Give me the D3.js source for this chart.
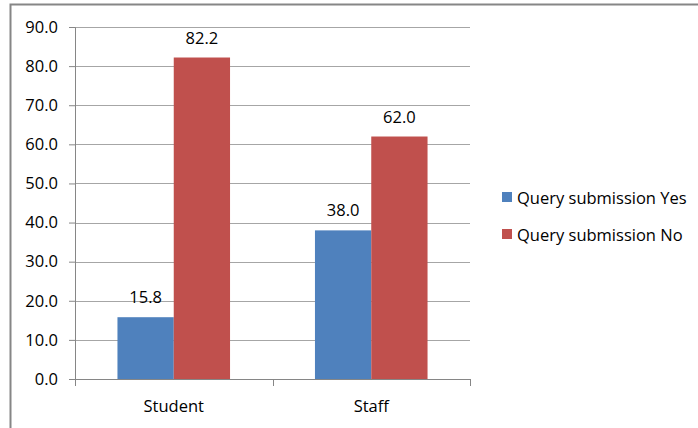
<!DOCTYPE html>
<html>
<head>
<meta charset="utf-8">
<script src="https://cdn.jsdelivr.net/npm/d3@7"></script>
<style>
  body { margin: 0; background: #fff; }
  svg { display: block; font-family: "Open Sans", sans-serif; }
</style>
</head>
<body>
<div id="chart"></div>
<script>
// data
const categories = ["Student", "Staff"];
const seriesNames = ["Query submission Yes", "Query submission No"];
const yesValues = [15.8, 38.0];
const noValues = [82.2, 62.0];
const yTicks = [0, 10, 20, 30, 40, 50, 60, 70, 80, 90];
const colors = ["#4F81BD", "#C0504D"];

const width = 698, height = 428;
const margin = { top: 27, right: 228, bottom: 49, left: 75 };
const fontSize = 16.5;

const svg = d3.select("#chart").append("svg")
  .attr("width", width)
  .attr("height", height);

// outer frame (runs off the right and bottom edges)
svg.append("rect")
  .attr("x", 10.5).attr("y", 4.5)
  .attr("width", width + 20).attr("height", height + 20)
  .attr("fill", "none")
  .attr("stroke", "#868686")
  .attr("stroke-width", 2);

const innerW = width - margin.left - margin.right;
const innerH = height - margin.top - margin.bottom;
const g = svg.append("g").attr("transform", `translate(${margin.left},${margin.top})`);

const x0 = d3.scaleBand().domain(categories).range([0, innerW]).paddingInner(0.43).paddingOuter(0.215);
const x1 = d3.scaleBand().domain(seriesNames).range([0, x0.bandwidth()]);
const y = d3.scaleLinear().domain([0, 90]).range([innerH, 0]);

// gridlines
g.append("g")
  .selectAll("line")
  .data(yTicks.filter(d => d > 0))
  .join("line")
  .attr("x1", 0).attr("x2", innerW)
  .attr("y1", d => Math.round(y(d)) + 0.5).attr("y2", d => Math.round(y(d)) + 0.5)
  .attr("stroke", "#a6a6a6");

// y axis
const yAxis = g.append("g")
  .call(d3.axisLeft(y).tickValues(yTicks).tickFormat(d3.format(".1f")).tickSize(6).tickPadding(11));
yAxis.select(".domain").attr("stroke", "#868686");
yAxis.selectAll(".tick line").attr("stroke", "#868686");
yAxis.selectAll("text").attr("font-size", fontSize).attr("fill", "#000").attr("font-family", "Open Sans, sans-serif");

// x axis
const xAxisG = g.append("g").attr("transform", `translate(0,${innerH})`);
xAxisG.append("line")
  .attr("x1", 0).attr("x2", innerW).attr("y1", 0.5).attr("y2", 0.5)
  .attr("stroke", "#868686");
const step = innerW / categories.length;
xAxisG.selectAll("line.sep")
  .data(d3.range(categories.length + 1))
  .join("line")
  .attr("class", "sep")
  .attr("x1", d => Math.round(d * step) + 0.5).attr("x2", d => Math.round(d * step) + 0.5)
  .attr("y1", 0).attr("y2", 7)
  .attr("stroke", "#868686");
xAxisG.selectAll("text")
  .data(categories)
  .join("text")
  .attr("x", d => x0(d) + x0.bandwidth() / 2)
  .attr("y", 33)
  .attr("text-anchor", "middle")
  .attr("font-size", fontSize)
  .text(d => d);

// bars
const rows = categories.map((c, i) => ({ cat: c, vals: [yesValues[i], noValues[i]] }));
const groups = g.selectAll("g.cat")
  .data(rows)
  .join("g")
  .attr("class", "cat")
  .attr("transform", d => `translate(${x0(d.cat)},0)`);

groups.selectAll("rect")
  .data(d => d.vals.map((v, j) => ({ name: seriesNames[j], v, j })))
  .join("rect")
  .attr("x", d => x1(d.name))
  .attr("y", d => y(d.v))
  .attr("width", x1.bandwidth())
  .attr("height", d => innerH - y(d.v))
  .attr("fill", d => colors[d.j]);

groups.selectAll("text")
  .data(d => d.vals.map((v, j) => ({ name: seriesNames[j], v, j })))
  .join("text")
  .attr("x", d => x1(d.name) + x1.bandwidth() / 2)
  .attr("y", d => y(d.v) - 14)
  .attr("text-anchor", "middle")
  .attr("font-size", fontSize)
  .text(d => d3.format(".1f")(d.v));

// legend
const legend = svg.append("g").attr("transform", "translate(502,199)");
legend.selectAll("g")
  .data(seriesNames)
  .join("g")
  .attr("transform", (d, i) => `translate(0,${i * 37})`)
  .each(function (d, i) {
    const s = d3.select(this);
    s.append("rect").attr("x", 0).attr("y", -7).attr("width", 10).attr("height", 10).attr("fill", colors[i]);
    s.append("text").attr("x", 15).attr("y", 5).attr("font-size", fontSize).text(d);
  });
</script>
</body>
</html>
